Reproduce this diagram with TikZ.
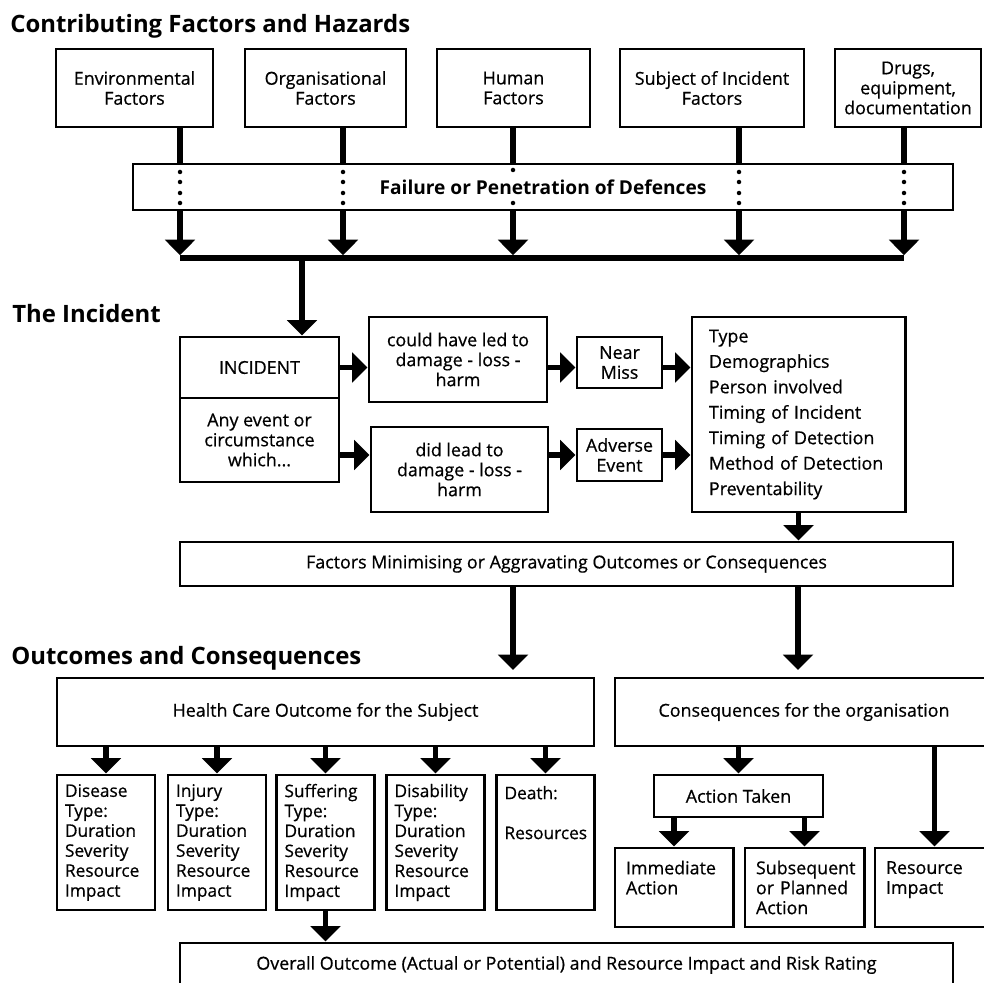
\documentclass[tikz,border=0pt]{standalone}
\usepackage{fontspec}
\setmainfont{Open Sans}
\newfontfamily\isifont{Open Sans}[FakeBold=0.6]
\usetikzlibrary{positioning, arrows.meta}

\begin{document}
\begin{tikzpicture}[x=0.025cm, y=-0.025cm,
    every node/.style={font=\isifont\fontsize{12.7}{14.2}\selectfont, align=center, inner sep=0pt},
    box/.style={draw, line width=2.1pt},
    judul/.style={font=\fontsize{17}{20}\selectfont\bfseries, anchor=base west},
    shaft/.style={line width=4.2pt},
    arr/.style={line width=4.2pt, -{Triangle[width=21pt,length=11pt]}}]
    % ukuran satu piksel
    \def\px{0.025cm}
    \useasboundingbox (0,0) rectangle (984,983);
    \clip (0,0) rectangle (984,983);

    % judul bagian
    \node[judul] (t1) at (10,33) {Contributing Factors and Hazards};
    \node[judul] (t2) at (12,323) {The Incident};
    \node[judul] (t3) at (11,664) {Outcomes and Consequences};

    % kotak faktor
    \foreach \n/\c/\w/\t in {env/134.5/157/{Environmental\\Factors},
        org/325.5/161/{Organisational\\Factors},
        hum/513.5/153/{Human\\Factors},
        sub/712/184/{Subject of Incident\\Factors},
        drg/908/146/{Drugs,\\equipment,\\documentation}}{
        \node[box, minimum width=\w*\px, minimum height=78*\px] (\n) at (\c,88) {\t};
      }
    \node[box, minimum width=820*\px, minimum height=46*\px, font=\fontsize{13.6}{16}\selectfont\bfseries]
    (fail) at (543,187) {Failure or Penetration of Defences};

    % garis faktor ke bar
    \foreach \n/\l in {env/180, org/343, hum/513, sub/739, drg/904}{
        \coordinate (bar\n) at (\l,258);
        \draw[shaft] (\n.south -| bar\n) -- (fail.north -| bar\n);
        \draw[arr, shorten >=2pt] (fail.south -| bar\n) -- (bar\n);
      }
    % titik di dalam kotak
    \foreach \l in {180,343,739,904}{
        \foreach \d in {172,182,193,203}{
            \fill (\l,\d) circle (1.6pt);
          }
      }
    \fill (513,170) circle (1.6pt);
    \fill (513,203) circle (1.6pt);
    \draw[line width=4pt] (barenv) -- (bardrg);
    \coordinate (barinc) at (302,258);

    % insiden
    \node[box, minimum width=159*\px, minimum height=61*\px] (inc) at (259.5,367.5) {INCIDENT};
    \node[box, minimum width=159*\px, minimum height=84*\px] (any) at (259.5,440) {Any event or\\circumstance\\which...};
    \node[box, minimum width=178*\px, minimum height=85*\px] (could) at (458,359.5) {could have led to\\damage - loss -\\harm};
    \node[box, minimum width=177*\px, minimum height=85*\px] (did) at (459.5,469.5) {did lead to\\damage - loss -\\harm};
    \node[box, minimum width=85*\px, minimum height=51*\px] (near) at (619.5,362.5) {Near\\Miss};
    \node[box, minimum width=85*\px, minimum height=52*\px] (adv) at (619.5,455) {Adverse\\Event};
    \node[box, minimum width=213*\px, minimum height=195*\px, text width=4.475cm, inner xsep=0.425cm,
      align=left, font=\isifont\fontsize{12.7}{18.1}\selectfont] (list) at (798.5,414.5)
    {Type\\Demographics\\Person involved\\Timing of Incident\\Timing of Detection\\Method of Detection\\Preventability};
    \node[box, minimum width=773*\px, minimum height=44*\px] (fac) at (566.5,564)
    {Factors Minimising or Aggravating Outcomes or Consequences};

    \draw[arr] (barinc) -- (barinc |- inc.north);
    \draw[arr] (inc.east) -- (inc.east -| could.west);
    \draw[arr] (any.east |- adv.west) -- (did.west |- adv.west);
    \draw[arr] (could.east |- inc.east) -- (near.west |- inc.east);
    \draw[arr] (did.east |- adv.west) -- (adv.west);
    \draw[arr] (near.east |- inc.east) -- (list.west |- inc.east);
    \draw[arr] (adv.east) -- (adv.east -| list.west);
    \draw[arr] (list.south) -- (list.south |- fac.north);

    % hasil dan konsekuensi
    \node[box, minimum width=537*\px, minimum height=68*\px] (hlt) at (325.5,712) {Health Care Outcome for the Subject};
    \node[box, minimum width=378*\px, minimum height=68*\px] (cons) at (804,712) {Consequences for the organisation};
    \coordinate (hin) at (513,670);
    \coordinate (cin) at (798,670);
    \draw[arr] (fac.south -| hin) -- (hin);
    \draw[arr] (fac.south -| cin) -- (cin);

    \foreach \n/\c/\t in {dis/106/{Disease\\Type:\\Duration\\Severity\\Resource\\Impact},
        inj/217/{Injury\\Type:\\Duration\\Severity\\Resource\\Impact},
        suf/325.5/{Suffering\\Type:\\Duration\\Severity\\Resource\\Impact},
        dsb/435.5/{Disability\\Type:\\Duration\\Severity\\Resource\\Impact},
        dth/545.5/{Death:\\~\\Resources\\~\\~\\~}}{
        \node[box, text width=2.05cm, inner xsep=0.2cm, minimum height=135*\px, align=left,
          font=\isifont\fontsize{12.3}{14.2}\selectfont]
        (\n) at (\c,842.5) {\t};
        \draw[arr] (\n.north |- hlt.south) -- (\n.north);
      }

    \node[box, minimum width=169*\px, minimum height=42*\px] (act) at (738.5,796) {Action Taken};
    \node[box, text width=2.4cm, inner xsep=0.275cm, minimum height=79*\px, align=left]
    (imm) at (674,887.5) {Immediate\\Action\\~};
    \node[box, text width=2.425cm, inner xsep=0.275cm, minimum height=79*\px, align=left]
    (subs) at (804.5,887.5) {Subsequent\\or Planned\\Action};
    \node[box, text width=2.425cm, inner xsep=0.275cm, minimum height=79*\px, align=left]
    (res) at (934.5,887.5) {Resource\\Impact\\~};
    \node[box, minimum width=773*\px, minimum height=44*\px] (ovr) at (566.5,965)
    {Overall Outcome (Actual or Potential) and Resource Impact and Risk Rating};

    \draw[arr] (act.north |- cons.south) -- (act.north);
    \draw[arr] (imm.north |- act.south) -- (imm.north);
    \draw[arr] (subs.north |- act.south) -- (subs.north);
    \draw[arr] (res.north |- cons.south) -- (res.north);
    \draw[arr] (suf.south) -- (suf.south |- ovr.north);
  \end{tikzpicture}
\end{document}
